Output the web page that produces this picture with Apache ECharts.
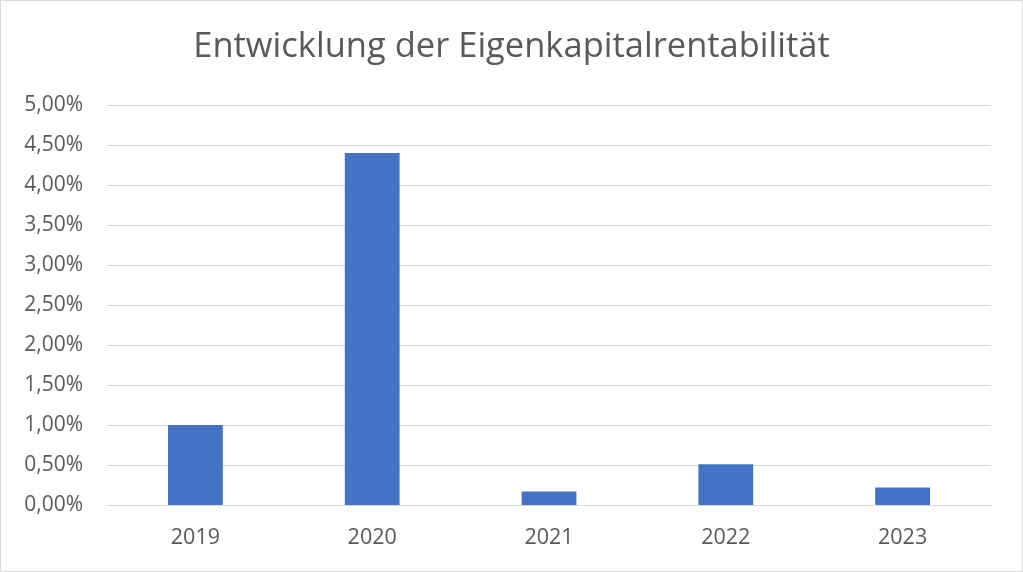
<!DOCTYPE html>
<html><head><meta charset="utf-8">
<script src="https://cdn.jsdelivr.net/npm/echarts@6/dist/echarts.min.js"></script>
<style>html,body{margin:0;padding:0;background:#fff}#c{width:1021px;height:570px;border:1px solid #d9d9d9}</style>
</head><body><div id="c"></div>
<script>
const categories = ['2019','2020','2021','2022','2023'];
const values = [1.00, 4.40, 0.17, 0.51, 0.22];
const titleText = 'Entwicklung der Eigenkapitalrentabilität';
const chart = echarts.init(document.getElementById('c'));
chart.setOption({
  animation:false,
  title:{text:titleText,left:'center',top:24,textStyle:{fontFamily:'Open Sans',fontSize:34.5,fontWeight:'normal',color:'#595959'}},
  grid:{left:106,right:31,top:104,bottom:66},
  xAxis:{type:'category',data:categories,axisLine:{lineStyle:{color:'#d9d9d9'}},axisTick:{show:false},
    axisLabel:{color:'#595959',fontFamily:'Open Sans',fontSize:21.5,margin:22}},
  yAxis:{type:'value',min:0,max:5,interval:0.5,axisLine:{show:false},axisTick:{show:false},
    splitLine:{lineStyle:{color:'#d9d9d9',width:1}},
    axisLabel:{color:'#595959',fontFamily:'Open Sans',fontSize:21,margin:24,formatter:v=>v.toFixed(2).replace('.',',')+'%'}},
  series:[{type:'bar',data:values,barWidth:'31%',itemStyle:{color:'#4472C4'}}]
});
</script></body></html>
